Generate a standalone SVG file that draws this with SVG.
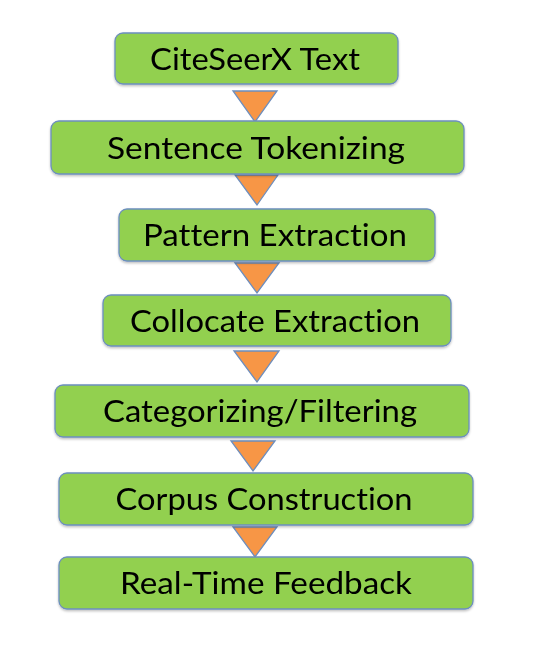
<svg xmlns="http://www.w3.org/2000/svg" width="538" height="652" viewBox="0 0 538 652">
  <style>
    .box { fill: #92D050; stroke: #6C8EBF; stroke-width: 1.3; }
    .lbl { font-family: Lato, "Open Sans", "Liberation Sans", sans-serif; font-size: 31px; fill: #000; text-anchor: middle; font-variant-ligatures: none; font-feature-settings: "liga" 0, "dlig" 0; }
    .tri { fill: #F79646; stroke: #6C8EBF; stroke-width: 1.3; stroke-linejoin: miter; }
  </style>
  <defs>
    <filter id="shadow" x="-5%" y="-10%" width="110%" height="130%">
      <feDropShadow dx="0" dy="1.5" stdDeviation="1" flood-color="#000" flood-opacity="0.25"/>
    </filter>
  </defs>
  <rect width="538" height="652" fill="#fff"/>

  <!-- connectors: downward triangles between steps -->
  <g id="connectors">
    <polygon class="tri" points="233,91 277,91 255,122"/>
    <polygon class="tri" points="235,175 278,175 257,205"/>
    <polygon class="tri" points="235,263 279,263 257,293"/>
    <polygon class="tri" points="234,351 279,351 257,382"/>
    <polygon class="tri" points="231,441 275,441 253,471"/>
    <polygon class="tri" points="233,527 277,527 255,557"/>
  </g>

  <g id="citeseerx-text" filter="url(#shadow)">
    <rect class="box" x="115" y="33" width="283" height="51" rx="8"/>
    <text class="lbl" x="255" y="69.5" textLength="210" lengthAdjust="spacingAndGlyphs">CiteSeerX Text</text>
  </g>
  <g id="sentence-tokenizing" filter="url(#shadow)">
    <rect class="box" x="51" y="121" width="413" height="53" rx="8"/>
    <text class="lbl" x="256" y="158.5" textLength="298" lengthAdjust="spacingAndGlyphs">Sentence Tokenizing</text>
  </g>
  <g id="pattern-extraction" filter="url(#shadow)">
    <rect class="box" x="119" y="209" width="316" height="52" rx="8"/>
    <text class="lbl" x="275" y="245.5" textLength="264" lengthAdjust="spacingAndGlyphs">Pattern Extraction</text>
  </g>
  <g id="collocate-extraction" filter="url(#shadow)">
    <rect class="box" x="103" y="295" width="348" height="51" rx="8"/>
    <text class="lbl" x="275" y="331.5" textLength="290" lengthAdjust="spacingAndGlyphs">Collocate Extraction</text>
  </g>
  <g id="categorizing-filtering" filter="url(#shadow)">
    <rect class="box" x="55" y="385" width="414" height="52" rx="8"/>
    <text class="lbl" x="260" y="421.5" textLength="314" lengthAdjust="spacingAndGlyphs">Categorizing/Filtering</text>
  </g>
  <g id="corpus-construction" filter="url(#shadow)">
    <rect class="box" x="59" y="473" width="414" height="52" rx="8"/>
    <text class="lbl" x="264" y="509.5" textLength="297" lengthAdjust="spacingAndGlyphs">Corpus Construction</text>
  </g>
  <g id="real-time-feedback" filter="url(#shadow)">
    <rect class="box" x="59" y="557" width="414" height="52" rx="8"/>
    <text class="lbl" x="266" y="593.5" textLength="292" lengthAdjust="spacingAndGlyphs">Real-Time Feedback</text>
  </g>
</svg>
